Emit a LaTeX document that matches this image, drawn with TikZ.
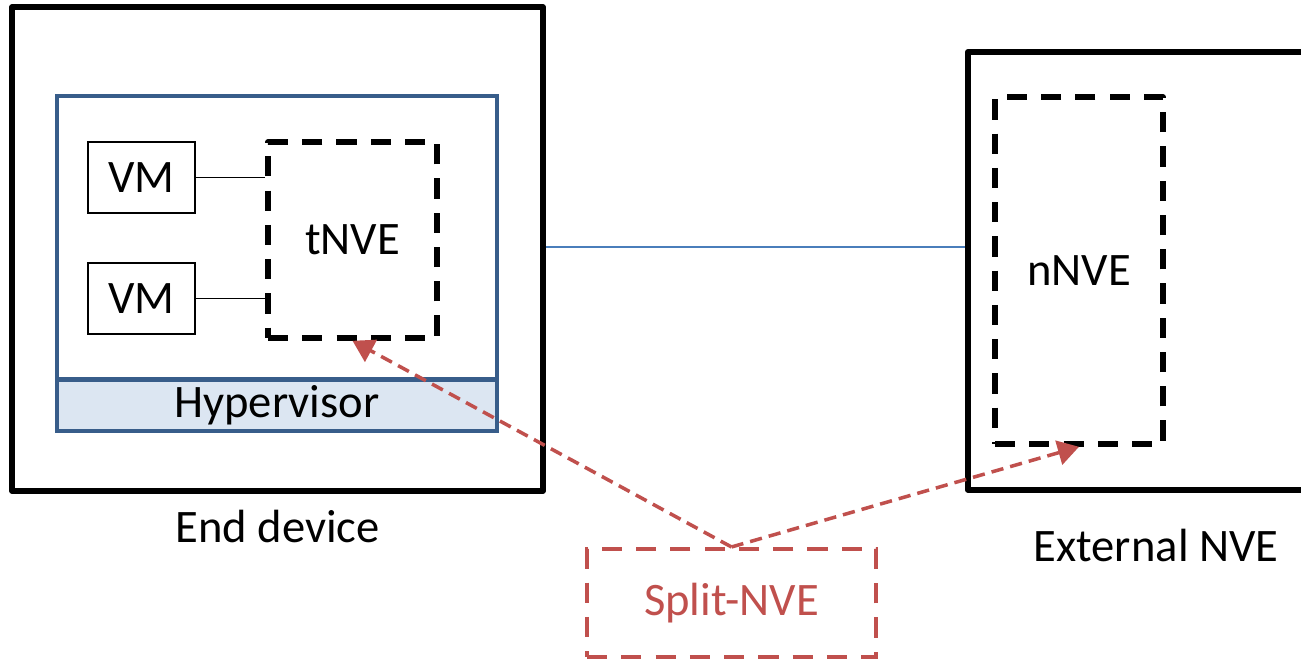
\documentclass[tikz,border=0pt]{standalone}
\usepackage{fontspec}
\setmainfont{Carlito}
\usetikzlibrary{arrows.meta, positioning, calc}

\definecolor{hvblue}{HTML}{385D8A}
\definecolor{hvfill}{HTML}{DCE6F2}
\definecolor{linkblue}{HTML}{4A7EBB}
\definecolor{splitred}{HTML}{C0504D}

\begin{document}
\begin{tikzpicture}[
  every node/.style = {font=\fontsize{26.5}{32}\selectfont},
  host/.style = {draw, line width=3.2pt, line join=round},
  vmbox/.style = {draw, line width=0.9pt, minimum width=2.14cm, minimum height=1.42cm},
  nve/.style = {draw, line width=3.2pt, line join=round, dash pattern=on 11.5pt off 8pt},
  arrow/.style = {splitred, line width=2pt, dash pattern=on 7pt off 4pt,
    -{Triangle[length=12pt, width=14pt]}}
]

  \useasboundingbox (0,0) rectangle (26.02,13.2);
  \clip (0,0) rectangle (26.02,13.2);

  % End device
  \node[host, minimum width=10.62cm, minimum height=9.68cm] (enddev) at (5.55,8.22) {};
  \node[below=0.2cm of enddev] (enddevlbl) {End device};

  % Hypervisor
  \node[draw=hvblue, line width=2.6pt, minimum width=8.8cm, minimum height=6.7cm] (server) at (5.54,7.93) {};
  \node[draw=hvblue, fill=hvfill, line width=2.6pt, minimum width=8.8cm, minimum height=0.9cm,
    anchor=south] (hyper) at (server.south) {Hypervisor};

  % VMs and tNVE
  \node[vmbox] (vm1) at (2.83,9.65) {VM};
  \node[vmbox] (vm2) at (2.83,7.23) {VM};
  \node[nve, minimum width=3.38cm, minimum height=3.92cm] (tnve) at (7.05,8.4) {tNVE};

  \draw[line width=0.9pt] (vm1.east) -- (vm1.east -| tnve.west);
  \draw[line width=0.9pt] (vm2.east) -- (vm2.east -| tnve.west);

  % External NVE
  \node[host, minimum width=8cm, minimum height=8.76cm, anchor=west] (extnve) at (19.3,7.78) {};
  \node (extlbl) at (23.12,2.28) {External NVE};
  \node[nve, minimum width=3.36cm, minimum height=6.94cm] (nnve) at (21.58,7.79) {nNVE};

  % Link
  \coordinate (linkl) at (enddev.east |- 0,8.26);
  \draw[linkblue, line width=0.9pt] (linkl) -- (linkl -| extnve.west);

  % Split-NVE
  \node[draw=splitred, text=splitred, line width=2.3pt, dash pattern=on 11.5pt off 8pt,
    minimum width=5.78cm, minimum height=2.16cm] (split) at (14.63,1.14) {Split-NVE};

  \draw[arrow] (split.north) -- (tnve.south);
  \draw[arrow] (split.north) -- (nnve.south);

\end{tikzpicture}
\end{document}
